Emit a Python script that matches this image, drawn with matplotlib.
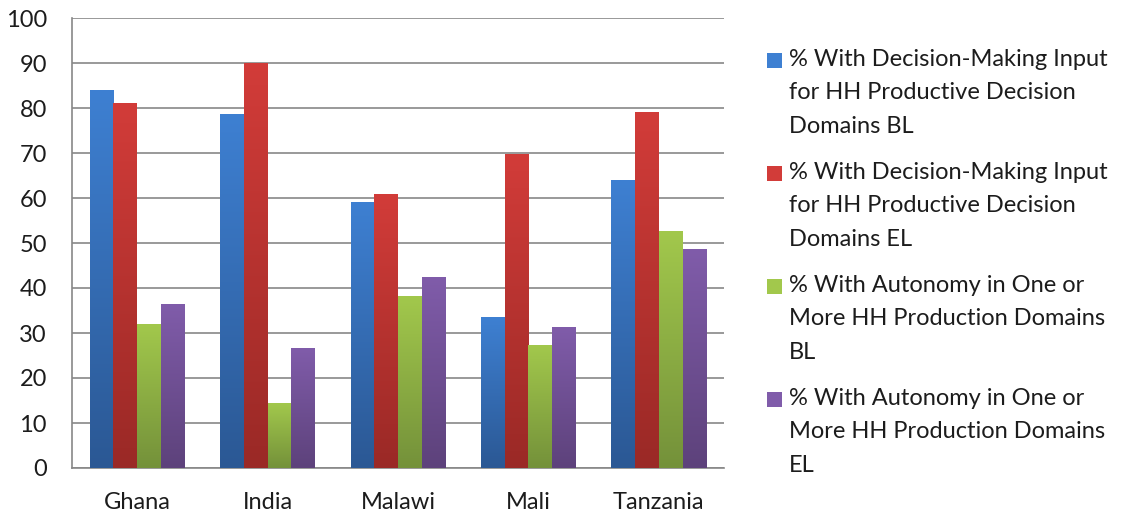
import numpy as np
import matplotlib
matplotlib.use("Agg")
import matplotlib.pyplot as plt
from matplotlib.colors import LinearSegmentedColormap
from matplotlib.patches import Rectangle

countries = ["Ghana", "India", "Malawi", "Mali", "Tanzania"]

input_bl = [84.0, 78.5, 59.1, 33.5, 63.9]
input_el = [80.9, 90.0, 60.8, 69.6, 79.1]
autonomy_bl = [32.0, 14.3, 38.2, 27.2, 52.5]
autonomy_el = [36.3, 26.5, 42.3, 31.2, 48.6]

series_labels = [
    "% With Decision-Making Input\nfor HH Productive Decision\nDomains BL",
    "% With Decision-Making Input\nfor HH Productive Decision\nDomains EL",
    "% With Autonomy in One or\nMore HH Production Domains\nBL",
    "% With Autonomy in One or\nMore HH Production Domains\nEL",
]

# (top colour, bottom colour) for the gradient fill of each series
series_colors = [
    ("#3E80D2", "#2B5894"),
    ("#D23C39", "#9A2926"),
    ("#A2C84C", "#74913A"),
    ("#805CAA", "#5D427B"),
]

plt.rcParams["font.family"] = ["Lato", "DejaVu Sans"]
text_color = "#1c1c1c"
grid_color = "#878787"
fsize = 17

fig = plt.figure(figsize=(11.24, 5.16), dpi=100)
ax = fig.add_axes([72 / 1124, 48 / 516, 652 / 1124, 450 / 516])

x = np.arange(len(countries))
bar_w = 0.182
all_series = [input_bl, input_el, autonomy_bl, autonomy_el]

for i, (vals, (c_top, c_bot)) in enumerate(zip(all_series, series_colors)):
    cmap = LinearSegmentedColormap.from_list(f"grad{i}", [c_bot, c_top])
    grad = np.linspace(0, 1, 256).reshape(-1, 1)
    for xc, v in zip(x, vals):
        left = xc + (i - 2) * bar_w
        ax.imshow(grad, cmap=cmap, origin="lower", aspect="auto",
                  extent=[left, left + bar_w, 0, v], zorder=3,
                  interpolation="bicubic")

ax.set_xlim(-0.5, len(countries) - 0.5)
ax.set_ylim(0, 100)
ax.set_yticks(np.arange(0, 101, 10))
ax.set_xticks(x)
ax.set_xticklabels(countries)
ax.yaxis.grid(True, color=grid_color, linewidth=1.2, zorder=0)
ax.set_axisbelow(True)
ax.tick_params(axis="both", length=0, labelsize=fsize, colors=text_color)
ax.tick_params(axis="y", pad=18)
ax.tick_params(axis="x", pad=17)
for side in ["top", "right"]:
    ax.spines[side].set_visible(False)
for side in ["left", "bottom"]:
    ax.spines[side].set_color(grid_color)
    ax.spines[side].set_linewidth(1.2)

# legend: square marker aligned with the first line of each label
W, H = 1124, 516
for k, (label, (c_top, c_bot)) in enumerate(zip(series_labels, series_colors)):
    y_line = 60 + 113 * k
    fig.patches.append(Rectangle((767 / W, 1 - (y_line + 8) / H), 15 / W, 15 / H,
                                 transform=fig.transFigure, facecolor=c_top,
                                 edgecolor="none"))
    fig.text(789 / W, 1 - (y_line - 11) / H, label, ha="left", va="top",
             fontsize=fsize, color=text_color, linespacing=1.73)

fig.savefig("out.png", dpi=100)
